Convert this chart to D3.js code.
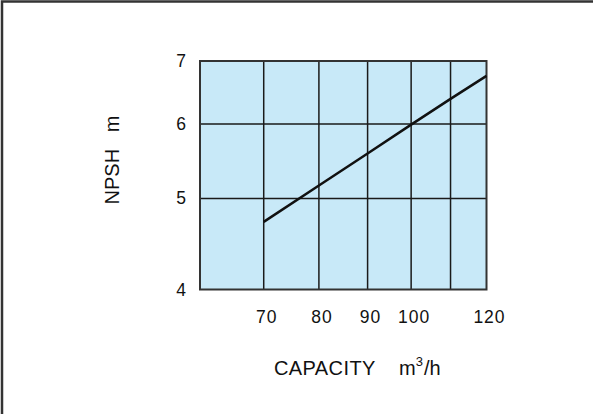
<!DOCTYPE html>
<html><head><meta charset="utf-8">
<script src="https://cdn.jsdelivr.net/npm/d3@7"></script>
<style>body{margin:0;background:#fff}svg{display:block}text{font-family:"Liberation Sans",Arial,sans-serif;fill:#111}</style>
</head><body><svg id="c" width="593" height="414"></svg>
<script>
const capacity = [70, 80, 90, 100, 110, 120];
const npsh = [4.72, 5.16, 5.58, 5.99, 6.38, 6.75];
const xTickLabels = [70, 80, 90, 100, 120];
const xGrid = [70, 80, 90, 100, 110];
const yTickLabels = [4, 5, 6, 7];

const svg = d3.select("#c");
const L = 200, R = 486.5, T = 61, B = 289.5;
const x = d3.scaleLog().domain([60, 120]).range([L, R]);
const y = d3.scaleLog().domain([4, 7]).range([B, T]);

// outer frame (top & left)
svg.append("path").attr("d", "M2,414 V1.5 H593").attr("fill", "none").attr("stroke", "#333").attr("stroke-width", 2.5);

svg.append("rect").attr("x", L).attr("y", T).attr("width", R - L).attr("height", B - T).attr("fill", "#c8e9f8");

svg.append("g").selectAll("line").data(xGrid).join("line")
  .attr("x1", d => x(d)).attr("x2", d => x(d)).attr("y1", T).attr("y2", B)
  .attr("stroke", "#1a1a1a").attr("stroke-width", 1.5);
svg.append("g").selectAll("line").data(yTickLabels.slice(1, -1)).join("line")
  .attr("x1", L).attr("x2", R).attr("y1", d => y(d)).attr("y2", d => y(d))
  .attr("stroke", "#1a1a1a").attr("stroke-width", 1.5);

svg.append("rect").attr("x", L).attr("y", T).attr("width", R - L).attr("height", B - T)
  .attr("fill", "none").attr("stroke", "#333").attr("stroke-width", 2);

svg.append("path").datum(capacity.map((c, i) => [c, npsh[i]]))
  .attr("d", d3.line().x(d => x(d[0])).y(d => y(d[1])))
  .attr("fill", "none").attr("stroke", "#111").attr("stroke-width", 2.5);

svg.append("g").selectAll("text").data(xTickLabels).join("text")
  .attr("x", d => x(d) + 3).attr("y", 323).attr("text-anchor", "middle")
  .attr("font-size", 17.5).attr("letter-spacing", 1).text(d => d);
svg.append("g").selectAll("text").data(yTickLabels).join("text")
  .attr("x", 186).attr("y", d => y(d) + 6).attr("text-anchor", "end")
  .attr("font-size", 17.5).text(d => d);

svg.append("text").attr("x", 274).attr("y", 375).attr("font-size", 20)
  .attr("letter-spacing", 0.4).text("CAPACITY");
const xl = svg.append("text").attr("x", 399).attr("y", 375).attr("font-size", 20);
xl.append("tspan").text("m");
xl.append("tspan").attr("dy", -9).attr("font-size", 13).text("3");
xl.append("tspan").attr("dy", 9).attr("dx", 1).text("/h");

svg.append("text").attr("transform", "translate(119,160) rotate(-90)")
  .attr("text-anchor", "middle").attr("font-size", 20).text("NPSH\u00a0\u00a0\u00a0m");
</script></body></html>
